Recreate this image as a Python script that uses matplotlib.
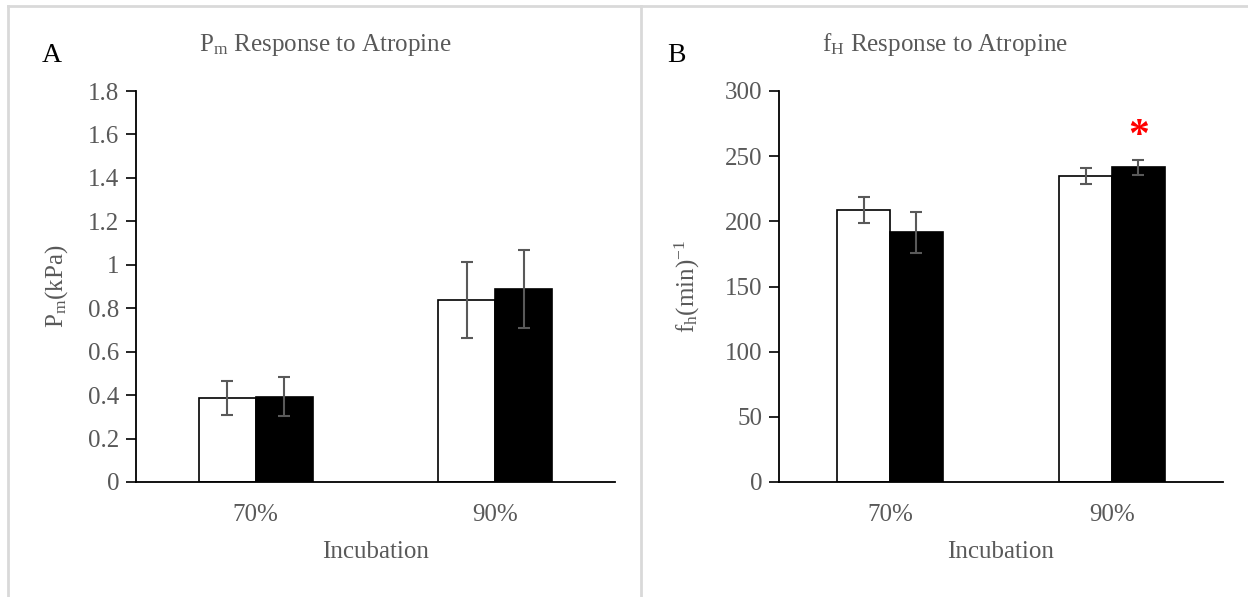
import numpy as np
import matplotlib
matplotlib.use("Agg")
import matplotlib.pyplot as plt
from matplotlib.lines import Line2D

# Data: incubation groups, control (open) vs atropine (filled), mean and error
categories = ["70%", "90%"]
pm_control = [0.387, 0.840]
pm_control_err = [0.080, 0.175]
pm_atropine = [0.393, 0.890]
pm_atropine_err = [0.090, 0.180]

fh_control = [209.0, 234.8]
fh_control_err = [10.0, 6.4]
fh_atropine = [191.5, 241.5]
fh_atropine_err = [15.5, 5.8]

pm_ticks = [0, 0.2, 0.4, 0.6, 0.8, 1.0, 1.2, 1.4, 1.6, 1.8]
fh_ticks = [0, 50, 100, 150, 200, 250, 300]

plt.rcParams["font.family"] = ["Liberation Serif", "DejaVu Serif"]
plt.rcParams["mathtext.fontset"] = "custom"
plt.rcParams["mathtext.rm"] = "Liberation Serif"
plt.rcParams["mathtext.it"] = "Liberation Serif:italic"

GRAY = "#595959"
FS = 18

W, H = 1248, 597
fig = plt.figure(figsize=(W / 100, H / 100), dpi=100)

# panel frame lines
border = "#d9d9d9"
fig.add_artist(Line2D([8 / W, 1], [1 - 6 / H, 1 - 6 / H], transform=fig.transFigure, color=border, lw=2))
fig.add_artist(Line2D([8 / W, 8 / W], [0, 1 - 6 / H], transform=fig.transFigure, color=border, lw=2))
fig.add_artist(Line2D([641 / W, 641 / W], [0, 1 - 6 / H], transform=fig.transFigure, color=border, lw=2))

ax1 = fig.add_axes([136 / W, 1 - 482 / H, 479 / W, (482 - 91) / H])
ax2 = fig.add_axes([779 / W, 1 - 482 / H, 444 / W, (482 - 91) / H])

w = 0.238
x = np.arange(len(categories))
ekw = dict(ecolor=GRAY, elinewidth=1.5, capsize=4, capthick=1.5)


def draw(ax, ctrl, ctrl_err, atr, atr_err, ticks, ylim, ylabel, lab_x):
    ax.bar(x - w / 2, ctrl, w, color="white", edgecolor="black", linewidth=1.2,
           yerr=ctrl_err, error_kw=ekw, zorder=2)
    ax.bar(x + w / 2, atr, w, color="black", edgecolor="black", linewidth=1.2,
           yerr=atr_err, error_kw=ekw, zorder=2)
    ax.set_xlim(-0.5, 1.5)
    ax.set_ylim(*ylim)
    ax.set_yticks(ticks)
    ax.set_yticklabels(["%g" % t for t in ticks])
    ax.set_xticks(x)
    ax.set_xticklabels(categories)
    for s in ("top", "right"):
        ax.spines[s].set_visible(False)
    for s in ("left", "bottom"):
        ax.spines[s].set_linewidth(1.3)
        ax.spines[s].set_color("black")
    ax.tick_params(axis="y", direction="out", length=7, width=1.2, color="black",
                   labelsize=FS, labelcolor=GRAY, pad=5)
    ax.tick_params(axis="x", length=0, labelsize=FS, labelcolor=GRAY, pad=16)
    ax.set_xlabel("Incubation", fontsize=FS, color=GRAY, labelpad=11)
    ax.set_ylabel(ylabel, fontsize=FS, color=GRAY)
    ax.yaxis.set_label_coords(lab_x, 0.5)
    ax.patch.set_alpha(0)


draw(ax1, pm_control, pm_control_err, pm_atropine, pm_atropine_err,
     pm_ticks, (0, 1.8), r"P$_\mathrm{m}$(kPa)", -0.138)
draw(ax2, fh_control, fh_control_err, fh_atropine, fh_atropine_err,
     fh_ticks, (0, 300), r"f$_\mathrm{h}$(min)$^\mathrm{-1}$", -0.173)

# significance marker above the atropine bar at 90%
ax2.text(x[1] + w / 2, fh_atropine[1] + fh_atropine_err[1] + 3, "*", color="red",
         fontsize=30, fontweight="bold", ha="center", va="bottom")

# titles and panel letters
fig.text(325 / W, 1 - 45 / H, r"P$_\mathrm{m}$ Response to Atropine", fontsize=FS,
         color=GRAY, ha="center", va="center")
fig.text(945 / W, 1 - 45 / H, r"f$_\mathrm{H}$ Response to Atropine", fontsize=FS,
         color=GRAY, ha="center", va="center")
fig.text(52 / W, 1 - 55 / H, "A", fontsize=20, color="black", ha="center", va="center")
fig.text(676 / W, 1 - 55 / H, "B", fontsize=20, color="black", ha="center", va="center")

fig.savefig("out.png", dpi=100)
